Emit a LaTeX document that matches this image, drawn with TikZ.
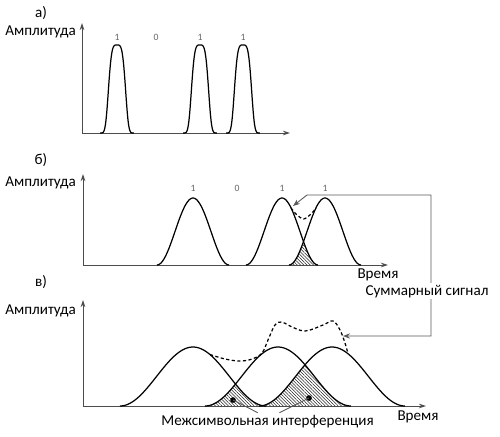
\documentclass[tikz,border=0pt]{standalone}
\usepackage{fontspec}
\setmainfont{Carlito}
\usetikzlibrary{arrows.meta,calc,patterns.meta}

\begin{document}
\begin{tikzpicture}[x=0.02cm, y=-0.02cm, >=Stealth,
  font=\fontsize{8.6}{10}\selectfont,
  declare function={rc(\u)=(1+cos(180*\u))/2; sg(\u)=exp(-(\u/0.55)^4);},
  axis/.style={black!70, line width=0.5pt, -{Stealth[length=4pt,width=2.6pt]}},
  pulse/.style={black, line width=0.7pt},
  sumline/.style={black, line width=0.7pt, dash pattern=on 1.8pt off 1.4pt},
  hatch/.style={pattern={Lines[angle=-45,distance=1.3pt,line width=0.3pt]}, pattern color=black!85},
  callout/.style={black!65, line width=0.5pt},
  digit/.style={font=\fontsize{5.5}{6}\selectfont, text=black!60, inner sep=0pt},
  txt/.style={inner sep=1pt}]
  \useasboundingbox (0,0) rectangle (500,436);

  %% Panel a: short pulses, no overlap
  \node[txt, anchor=base] (capA) at (41,17) {а)};
  \coordinate (oA) at (82,133);
  \coordinate (yA) at (82,23);
  \coordinate (xA) at (290,133);
  \draw[axis] (oA) -- (yA);
  \draw[axis] (oA) -- (xA);
  \node[txt, anchor=base east] (ampA) at (78,35) {Амплитуда};
  \foreach \px/\d [count=\i] in {117/1, 156/0, 200/1, 243/1}
    \node[digit] (digA\i) at (\px,37) {\d};
  \foreach \c in {117,200,243}
    \draw[pulse] plot[domain=-1:1, samples=60, smooth] ({\c+17*\x},{133-88*sg(\x)});

  %% Panel b: wider pulses, small overlap
  \node[txt, anchor=base] (capB) at (41,164) {б)};
  \coordinate (oB) at (83,265);
  \coordinate (yB) at (83,174);
  \coordinate (xB) at (388,265);
  \fill[hatch] plot[domain=289:303.5, samples=20] (\x,{265-67*rc((\x-325)/36)})
    -- plot[domain=303.5:318, samples=20] (\x,{265-67*rc((\x-282)/36)}) -- cycle;
  \draw[axis] (oB) -- (yB);
  \draw[axis] (oB) -- (xB);
  \node[txt, anchor=base east] (ampB) at (78,186) {Амплитуда};
  \node[txt, anchor=base] (timeB) at (378,278) {Время};
  \foreach \px/\d [count=\i] in {193/1, 237/0, 282/1, 325/1}
    \node[digit] (digB\i) at (\px,188) {\d};
  \foreach \c in {193,282,325}
    \draw[pulse] plot[domain=-1:1, samples=50] ({\c+36*\x},{265-67*rc(\x)});
  \draw[sumline] plot[smooth] coordinates {(291,208) (296,214) (303.5,219) (311,214) (316,208)};

  %% Panel c: wide pulses, strong overlap
  \node[txt, anchor=base] (capC) at (41,286) {в)};
  \coordinate (oC) at (83,406);
  \coordinate (yC) at (83,300);
  \coordinate (xC) at (426,406);
  \fill[hatch] plot[domain=205:235.5, samples=25] (\x,{406-59*rc((\x-278)/73)})
    -- plot[domain=235.5:266, samples=25] (\x,{406-59*rc((\x-193)/73)}) -- cycle;
  \fill[hatch] plot[domain=259:305, samples=30] (\x,{406-59*rc((\x-332)/73)})
    -- plot[domain=305:351, samples=30] (\x,{406-59*rc((\x-278)/73)}) -- cycle;
  \draw[axis] (oC) -- (yC);
  \draw[axis] (oC) -- (xC);
  \node[txt, anchor=base east] (ampC) at (78,314) {Амплитуда};
  \node[txt, anchor=base] (timeC) at (418,420) {Время};
  \foreach \c in {193,278,332}
    \draw[pulse] plot[domain=-1:1, samples=60] ({\c+73*\x},{406-59*rc(\x)});
  \draw[sumline] plot[smooth, tension=0.6] coordinates {(210,354.5) (225,359) (240,361)
    (252,359) (262,353) (268,340) (275,325) (282,322) (290,326) (305,331) (323,325)
    (333,321) (340,330) (345,343) (348,353.7)};

  %% ISI markers
  \node[circle, fill, inner sep=0pt, minimum size=3.2pt] (dotL) at (233,400) {};
  \node[circle, fill, inner sep=0pt, minimum size=3.2pt] (dotR) at (309,398) {};
  \node[txt, anchor=base] (isi) at (267.5,425) {Межсимвольная интерференция};
  \draw[callout] (dotL.center) -- ($(isi.north west)!0.455!(isi.north east)$);
  \draw[callout] (dotR.center) -- ($(isi.north west)!0.555!(isi.north east)$);

  %% Sum signal callout
  \coordinate (tipB) at (293,206);
  \coordinate (kneeB) at (307,195);
  \coordinate (cornerT) at (431,195);
  \coordinate (cornerB) at (431,336);
  \coordinate (tipC) at (343,336);
  \draw[callout, {Stealth[length=4pt,width=3pt]}-{Stealth[length=4pt,width=3pt]}]
    (tipB) -- (kneeB) -- (cornerT) -- (cornerB) -- (tipC);
  \node[txt, fill=white, anchor=base] (sumlbl) at (427,295) {Суммарный сигнал};
\end{tikzpicture}
\end{document}
